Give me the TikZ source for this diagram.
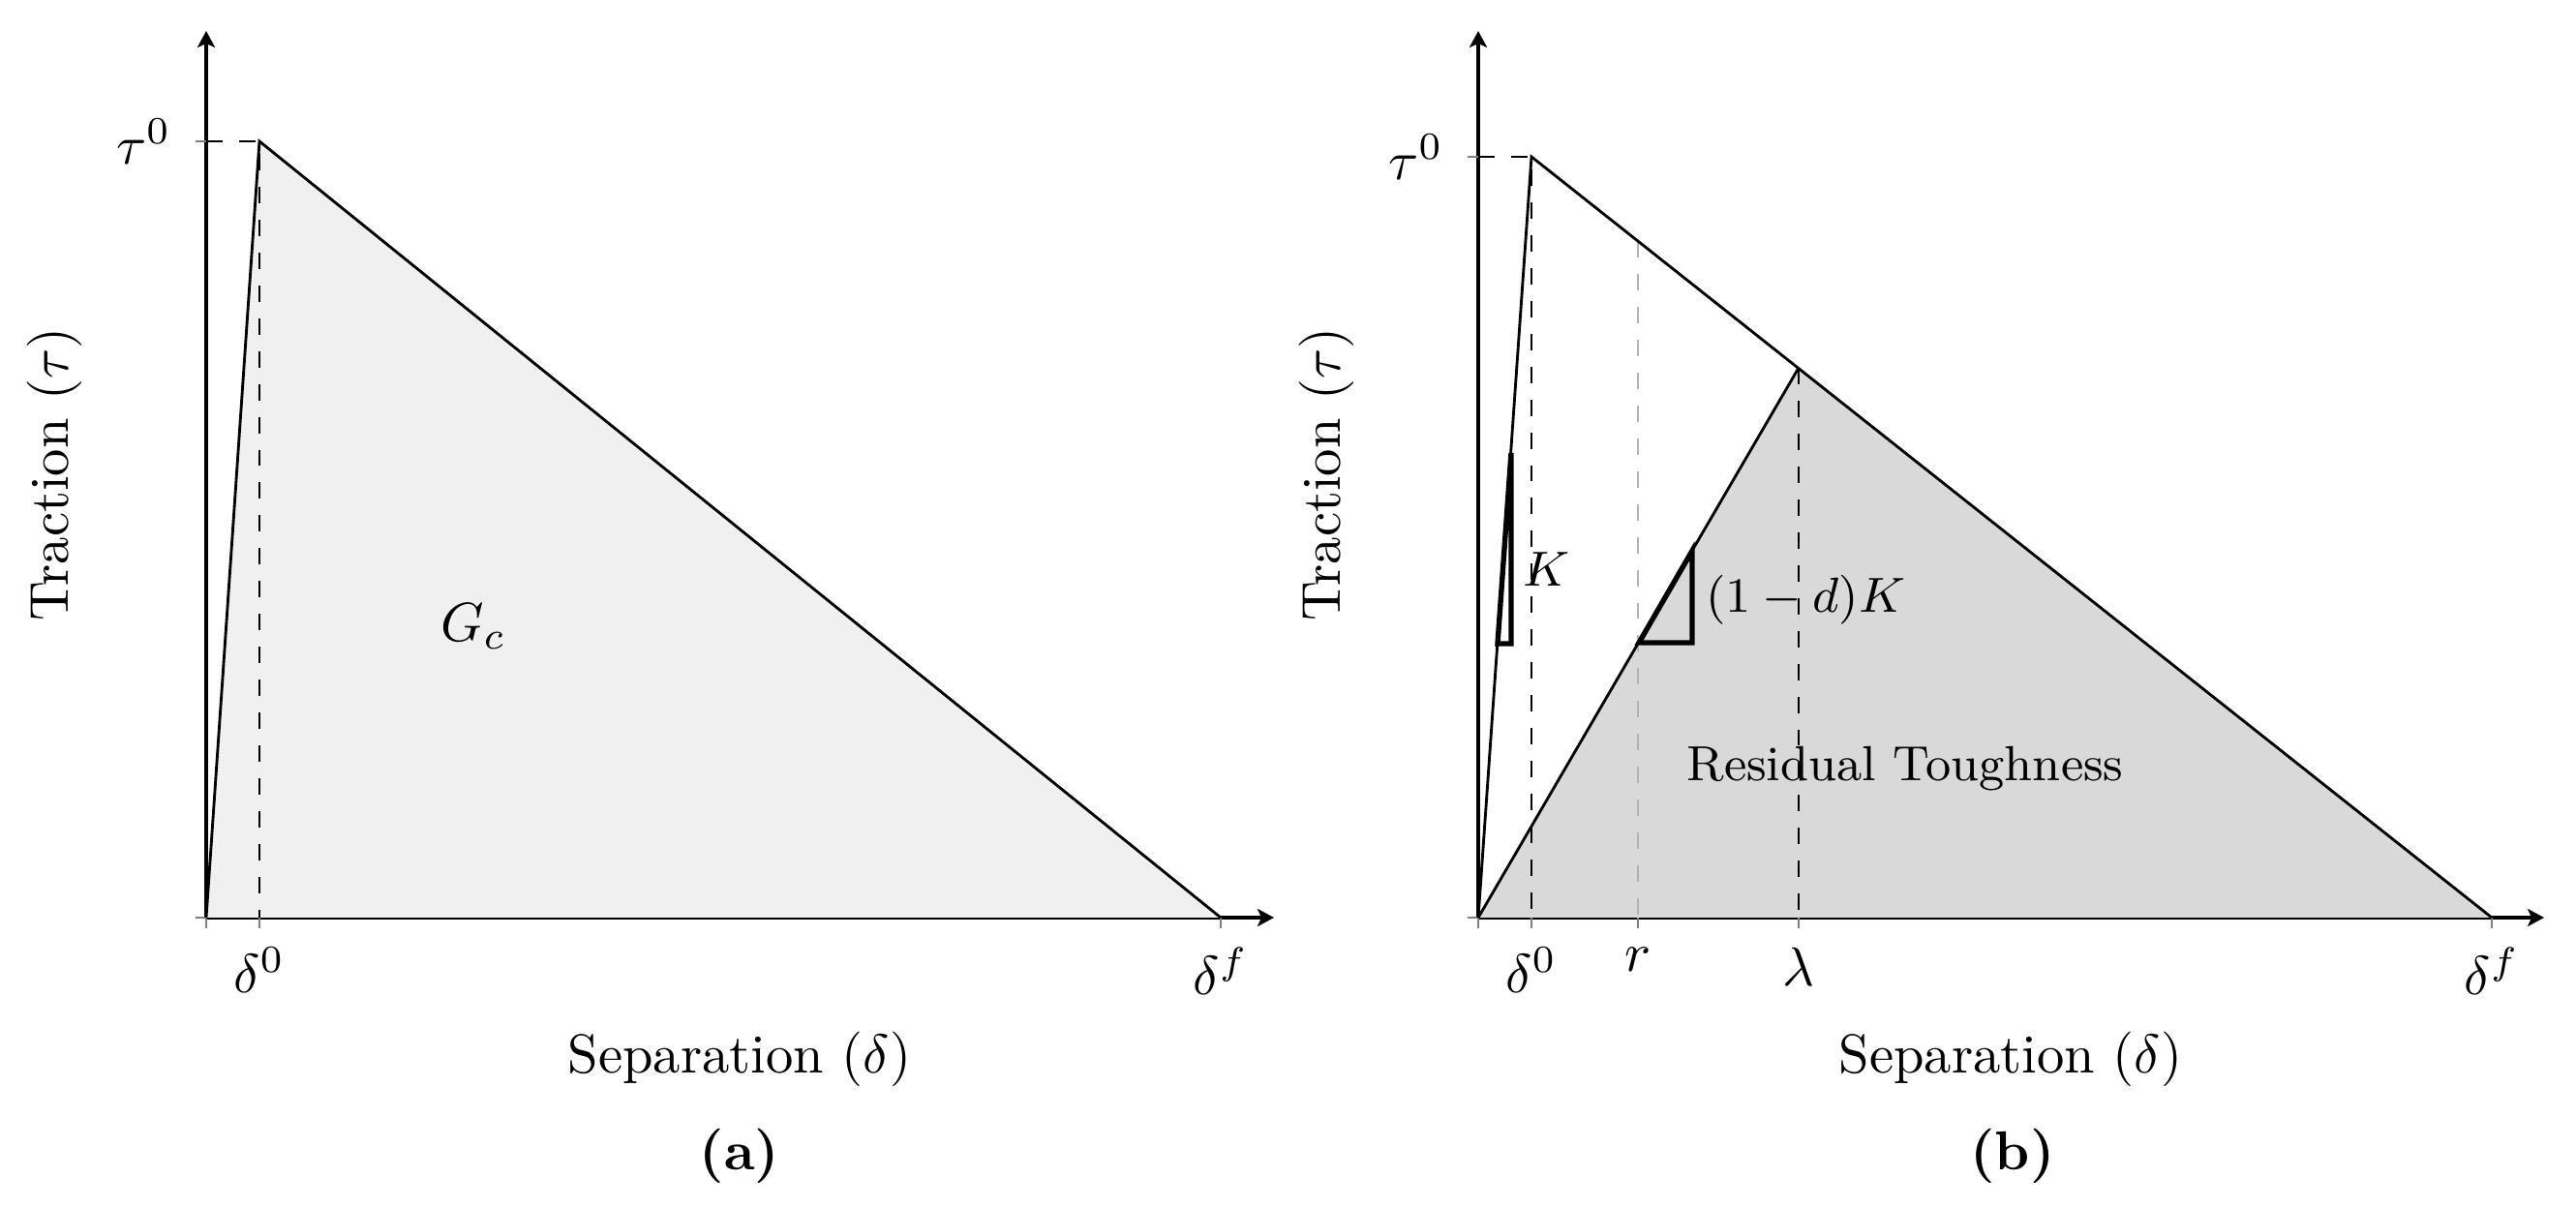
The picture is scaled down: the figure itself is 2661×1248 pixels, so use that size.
\documentclass[tikz,border=0pt]{standalone}
\usetikzlibrary{arrows.meta}
\begin{document}
\begin{tikzpicture}[x=0.1767pt,y=-0.1767pt,
  axisline/.style={line width=0.55pt,-{Stealth[length=3pt,width=3.2pt,inset=0.7pt]}},
  tickmark/.style={gray,line width=0.4pt},
  dashline/.style={dashed,line width=0.45pt},
  curve/.style={line width=0.5pt},
  slopetri/.style={line width=0.95pt,line join=miter},
  ticklab/.style={anchor=north,inner sep=0pt}]
\useasboundingbox (0,0) rectangle (2661,1248);
% ---------------- panel (a) ----------------
\coordinate (O1) at (213,948);
\coordinate (P1) at (268,146);
\coordinate (F1) at (1261,948);
\coordinate (Y1) at (213,146);
\coordinate (D1) at (268,948);
\coordinate (X1end) at (1316,948);
\coordinate (Y1end) at (213,32);
\draw[axisline] (O1) -- (X1end);
\draw[axisline] (O1) -- (Y1end);
\fill[gray!12] (O1) -- (P1) -- (F1) -- cycle;
\draw[tickmark] (O1) -- ++(0,11);
\draw[tickmark] (D1) -- ++(0,11);
\draw[tickmark] (F1) -- ++(0,11);
\draw[tickmark] (O1) -- ++(-11,0);
\draw[tickmark] (Y1) -- ++(-11,0);
\draw[dashline] (Y1) -- (P1) -- (D1);
\draw[curve] (O1) -- (P1) -- (F1);
\node[anchor=east,inner sep=0pt] (tau1) at (178,146) {$\tau^0$};
\node[ticklab] (d01) at (268,978) {$\delta^0$};
\node[ticklab] (df1) at (1261,978) {$\delta^f$};
\node (gc) at (489,647) {$G_c$};
\node (xl1) at (764,1094) {Separation ($\delta$)};
\node[rotate=90] (yl1) at (56,490) {Traction ($\tau$)};
\node (capa) at (764,1194) {\textbf{(a)}};
% ---------------- panel (b) ----------------
\coordinate (O2) at (1527,948);
\coordinate (P2) at (1582,162);
\coordinate (F2) at (2574,948);
\coordinate (L2) at (1858,380);
\coordinate (Rt2) at (1692,249);
\coordinate (R2) at (1692,948);
\coordinate (D2) at (1582,948);
\coordinate (Lam2) at (1858,948);
\coordinate (Y2) at (1527,162);
\coordinate (X2end) at (2628,948);
\coordinate (Y2end) at (1527,32);
\draw[axisline] (O2) -- (X2end);
\draw[axisline] (O2) -- (Y2end);
\fill[gray!30] (O2) -- (L2) -- (F2) -- cycle;
\draw[tickmark] (O2) -- ++(0,11);
\draw[tickmark] (D2) -- ++(0,11);
\draw[tickmark] (R2) -- ++(0,11);
\draw[tickmark] (Lam2) -- ++(0,11);
\draw[tickmark] (F2) -- ++(0,11);
\draw[tickmark] (O2) -- ++(-11,0);
\draw[tickmark] (Y2) -- ++(-11,0);
\draw[dashline,gray!60] (Rt2) -- (R2);
\draw[curve] (O2) -- (P2) -- (F2);
\draw[curve] (O2) -- (L2);
\draw[slopetri] (1547,665) -- (1561,665) -- (1561,468) -- cycle;
\draw[slopetri] (1693,664) -- (1748,664) -- (1748,569) -- cycle;
\node[anchor=west,inner sep=0pt,font=\small] (klab) at (1572,588) {$K$};
\node[anchor=west,inner sep=0pt,font=\small] (dklab) at (1761,620) {$(1-d)K$};
\node[font=\small] (rt) at (1968,794) {Residual Toughness};
\draw[dashline] (Y2) -- (P2) -- (D2);
\draw[dashline] (L2) -- (Lam2);
\node[anchor=east,inner sep=0pt] (tau2) at (1492,162) {$\tau^0$};
\node[ticklab] (d02) at (1582,978) {$\delta^0$};
\node[ticklab] (rl) at (1692,978) {$r$};
\node[ticklab] (laml) at (1858,978) {$\lambda$};
\node[ticklab] (df2) at (2574,978) {$\delta^f$};
\node (xl2) at (2077,1094) {Separation ($\delta$)};
\node[rotate=90] (yl2) at (1370,490) {Traction ($\tau$)};
\node (capb) at (2079,1194) {\textbf{(b)}};
\end{tikzpicture}
\end{document}
